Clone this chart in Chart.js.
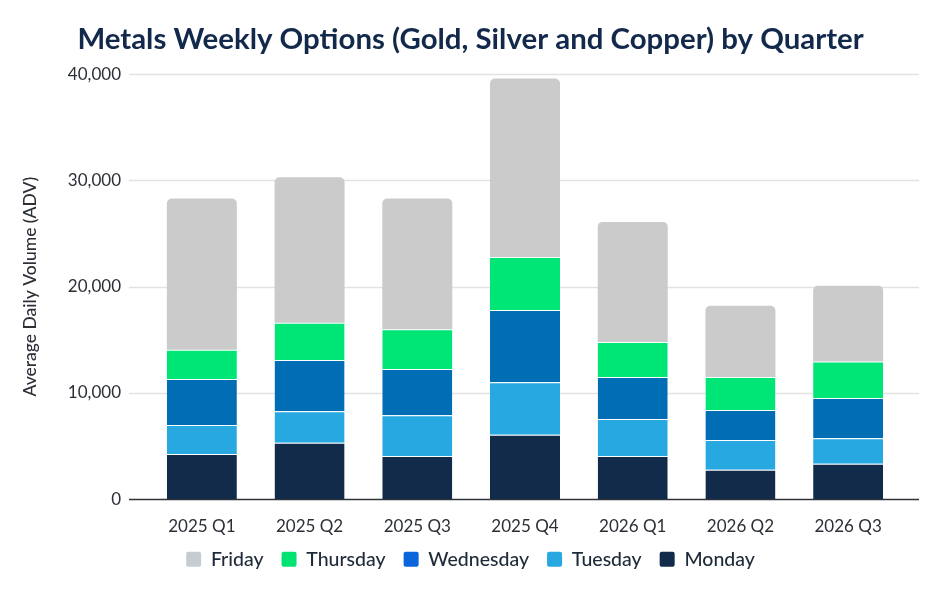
<!DOCTYPE html>
<html>
<head>
<meta charset="utf-8">
<script src="https://cdn.jsdelivr.net/npm/chart.js@4"></script>
<style>
  html, body { margin: 0; padding: 0; background: #fff; }
  #wrap { width: 941px; height: 601px; }
</style>
</head>
<body>
<div id="wrap"><canvas id="chart"></canvas></div>
<script>
// Categories and values
const quarters = ['2025 Q1', '2025 Q2', '2025 Q3', '2025 Q4', '2026 Q1', '2026 Q2', '2026 Q3'];
const monday    = [4250, 5300, 4050, 6050, 4050, 2770, 3330];
const tuesday   = [2730, 2970, 3850, 4950, 3500, 2800, 2400];
const wednesday = [4340, 4830, 4360, 6800, 3950, 2830, 3800];
const thursday  = [2740, 3500, 3740, 5000, 3300, 3100, 3420];
const friday    = [14240, 13700, 12300, 16800, 11300, 6700, 7150];
const yTicks = [0, 10000, 20000, 30000, 40000];

const FONT = 'Lato, "Noto Sans", sans-serif';
const TEXT = '#2b2f36';

// legend swatches are a bit different from the bar fills in the original
const swatch = {
    Friday: '#c6cdd2',
    Thursday: '#00e272',
    Wednesday: '#0a64dc',
    Tuesday: '#27a8e0',
    Monday: '#132b4a'
};

// gridlines run a bit wider than the bars' category band
const wideGrid = {
    id: 'wideGrid',
    beforeDatasetsDraw(chart) {
        const { ctx, chartArea, scales } = chart;
        const left = chartArea.left - 19;
        const right = chartArea.right + 17;
        ctx.save();
        yTicks.forEach(v => {
            const y = Math.round(scales.y.getPixelForValue(v)) + 0.5;
            ctx.beginPath();
            ctx.lineWidth = v === 0 ? 1.6 : 1.4;
            ctx.strokeStyle = v === 0 ? '#2f3338' : '#e2e2e2';
            ctx.moveTo(left, y);
            ctx.lineTo(right, y);
            ctx.stroke();
        });
        ctx.restore();
    }
};

// pull the legend row up closer to the axis labels
const legendNudge = {
    id: 'legendNudge',
    afterLayout(chart) {
        const lg = chart.legend;
        if (lg) { lg.top -= 22; lg.bottom -= 22; }
    }
};

function bar(label, data, color, extra) {
    return Object.assign({
        label: label,
        data: data,
        backgroundColor: color,
        borderColor: 'rgba(255,255,255,0.25)',
        borderWidth: { top: 1, bottom: 0, left: 0, right: 0 },
        borderSkipped: false,
        barPercentage: 0.65,
        categoryPercentage: 1.0
    }, extra || {});
}

const ctx = document.getElementById('chart').getContext('2d');
new Chart(ctx, {
    type: 'bar',
    data: {
        labels: quarters,
        datasets: [
            bar('Monday', monday, '#132b4a'),
            bar('Tuesday', tuesday, '#27a8e0'),
            bar('Wednesday', wednesday, '#006db5'),
            bar('Thursday', thursday, '#00e676'),
            bar('Friday', friday, '#cbcbcb', {
                borderWidth: 0,
                borderRadius: { topLeft: 5, topRight: 5, bottomLeft: 0, bottomRight: 0 }
            })
        ]
    },
    options: {
        responsive: true,
        maintainAspectRatio: false,
        animation: false,
        layout: { padding: { left: 39, right: 39, top: 0, bottom: 0 } },
        plugins: {
            title: {
                display: true,
                text: 'Metals Weekly Options (Gold, Silver and Copper) by Quarter',
                color: '#13294b',
                font: { family: FONT, size: 29.4, weight: 'bold' },
                padding: { top: 22, bottom: 17 }
            },
            legend: {
                position: 'bottom',
                reverse: true,
                labels: {
                    color: '#1e2a38',
                    font: { family: FONT, size: 19.5, weight: 500 },
                    boxWidth: 15,
                    boxHeight: 15,
                    useBorderRadius: true,
                    borderRadius: 2,
                    padding: 18,
                    generateLabels(chart) {
                        const items = Chart.defaults.plugins.legend.labels.generateLabels(chart);
                        items.forEach(it => {
                            it.fillStyle = swatch[it.text];
                            it.strokeStyle = swatch[it.text];
                            it.lineWidth = 0;
                        });
                        return items;
                    }
                }
            },
            tooltip: { enabled: false }
        },
        scales: {
            x: {
                stacked: true,
                grid: { display: false, drawTicks: false },
                border: { display: false },
                ticks: { color: TEXT, font: { family: FONT, size: 17 }, padding: 17 }
            },
            y: {
                stacked: true,
                min: 0,
                max: 40000,
                afterFit(scale) { scale.width = 109; },
                afterBuildTicks(scale) { scale.ticks = yTicks.map(v => ({ value: v })); },
                grid: { display: false, drawTicks: false },
                border: { display: false },
                title: {
                    display: true,
                    text: 'Average Daily Volume (ADV)',
                    color: TEXT,
                    font: { family: FONT, size: 17.5, weight: 500 },
                    padding: { top: -19, bottom: 0 }
                },
                ticks: {
                    color: TEXT,
                    font: { family: FONT, size: 17 },
                    padding: 27,
                    callback: v => v.toLocaleString('en-US')
                }
            }
        }
    },
    plugins: [wideGrid, legendNudge]
});
</script>
</body>
</html>
